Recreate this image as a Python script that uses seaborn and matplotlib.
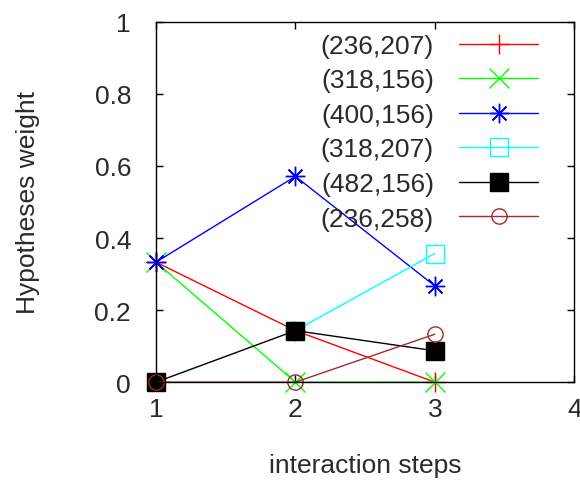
import numpy as np
import pandas as pd
import seaborn as sns
import matplotlib.pyplot as plt
from matplotlib.ticker import FormatStrFormatter

steps = [1, 2, 3]
labels = ['(236,207)', '(318,156)', '(400,156)', '(318,207)', '(482,156)', '(236,258)']
w_236_207 = [0.333, 0.143, 0.0]
w_318_156 = [0.333, 0.0, 0.0]
w_400_156 = [0.333, 0.571, 0.267]
w_318_207 = [np.nan, 0.143, 0.357]
w_482_156 = [0.0, 0.143, 0.087]
w_236_258 = [0.0, 0.0, 0.133]
series = [w_236_207, w_318_156, w_400_156, w_318_207, w_482_156, w_236_258]

colors = ['#ff0000', '#00ff00', '#0000ff', '#00ffff', '#000000', '#a52a2a']
markers = ['+', 'x', (8, 2, 0), 's', 's', 'o']
msizes = [14, 14, 14, 13, 13, 11]
fills = ['full', 'full', 'full', 'none', 'full', 'none']

sns.set_style('ticks')
plt.rcParams['font.family'] = ['Liberation Sans', 'DejaVu Sans']
txt = '#2a2a2a'
fs = 19

fig = plt.figure(figsize=(5.8, 4.85), dpi=100)
ax = fig.add_axes([0.269, 0.21, 0.721, 0.743])

for lab, vals, c, m, ms, fst in zip(labels, series, colors, markers, msizes, fills):
    df = pd.DataFrame({'step': steps, 'w': vals}).dropna()
    sns.lineplot(data=df, x='step', y='w', ax=ax, color=c, marker=m,
                 markersize=ms, fillstyle=fst, markeredgecolor=c,
                 markeredgewidth=1.0, linewidth=1.0, label=lab, clip_on=False)

ax.set_xlim(1, 4)
ax.set_ylim(0, 1)
ax.set_xticks([1, 2, 3, 4])
ax.set_yticks([0, 0.2, 0.4, 0.6, 0.8, 1])
ax.yaxis.set_major_formatter(FormatStrFormatter('%g'))
ax.tick_params(direction='in', top=True, right=True, length=5, width=1,
               labelsize=fs, colors=txt)
ax.tick_params(axis='y', pad=18, colors='black', labelcolor=txt)
ax.tick_params(axis='x', pad=11, colors='black', labelcolor=txt)
for s in ax.spines.values():
    s.set_linewidth(1.0)
    s.set_color('black')

ax.set_xlabel('interaction steps', fontsize=fs, color=txt)
ax.set_ylabel('Hypotheses weight', fontsize=fs, color=txt)
ax.xaxis.set_label_coords(0.5, -0.23)
ax.yaxis.set_label_coords(-0.306, 0.5)
ax.xaxis.label.set_va('center')
ax.yaxis.label.set_va('center')

leg = ax.legend(loc='upper right', bbox_to_anchor=(0.939, 0.996), markerfirst=False,
                frameon=False, fontsize=fs, handlelength=3.0, labelspacing=0.40,
                handletextpad=0.95, borderaxespad=0)
for t in leg.get_texts():
    t.set_color(txt)

fig.savefig('out.png', dpi=100)
